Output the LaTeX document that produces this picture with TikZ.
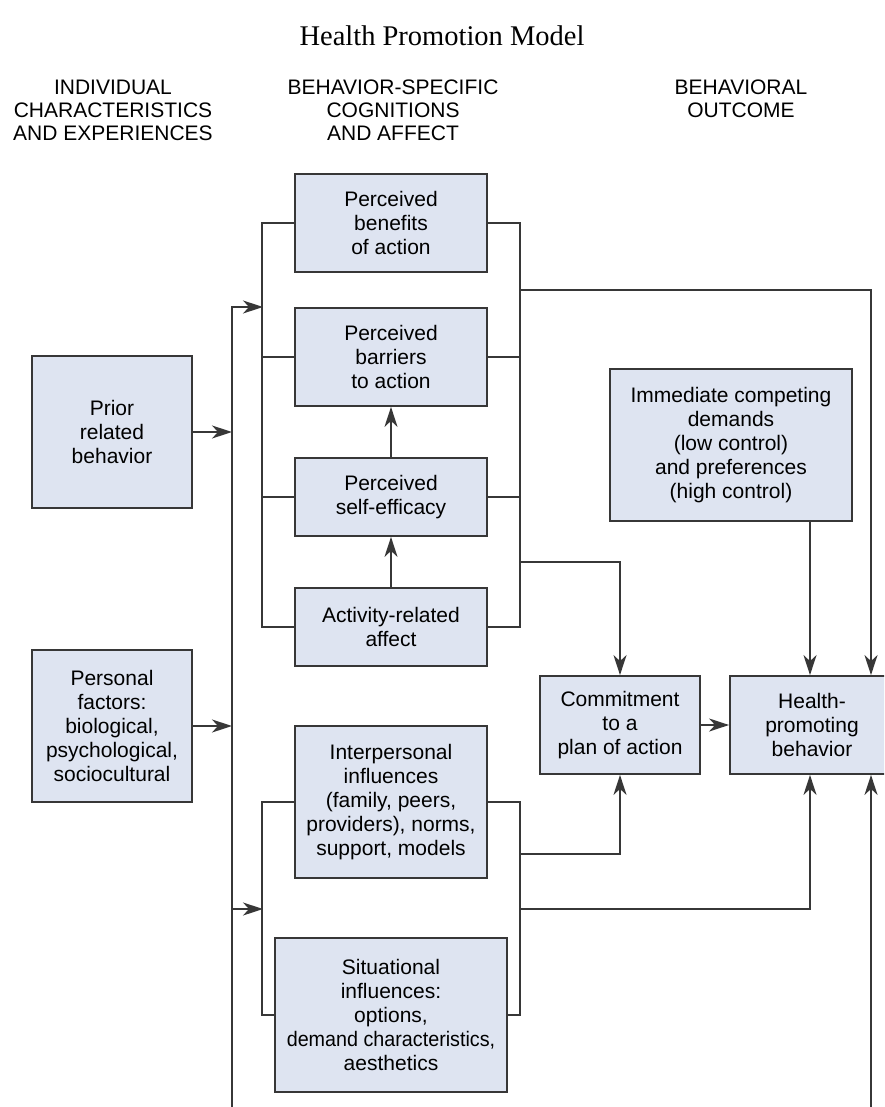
\documentclass[tikz,border=0pt]{standalone}
\usepackage{fontspec}
\usepackage{graphicx}
\setmainfont{Liberation Sans}
\newfontfamily\titlefont{Liberation Serif}
\usetikzlibrary{arrows.meta}
\definecolor{boxfill}{RGB}{222,228,241}
\definecolor{linecol}{RGB}{55,55,55}
\tikzset{>={Stealth[length=20pt,width=13pt,inset=6pt]}}
\begin{document}
\begin{tikzpicture}[x=1pt,y=-1pt,
  box/.style={draw=linecol, fill=boxfill, line width=1.8pt, inner sep=0pt, align=center,
              font=\fontsize{21}{24}\selectfont},
  conn/.style={draw=linecol, line width=1.8pt},
  arr/.style={conn, ->},
  hdr/.style={align=center, font=\fontsize{21}{23.3}\selectfont, inner sep=0pt, anchor=north}]
\useasboundingbox (0,0) rectangle (884,1107);
\clip (0,0) rectangle (884,1107);

% title and column headers
\node[font=\titlefont\fontsize{28.5}{30}\selectfont, inner sep=0pt] (title) at (442,36) {Health Promotion Model};
\node[hdr] (h1) at (113,79.5) {INDIVIDUAL\\CHARACTERISTICS\\AND EXPERIENCES};
\node[hdr] (h2) at (393,79.5) {BEHAVIOR-SPECIFIC\\COGNITIONS\\AND AFFECT};
\node[hdr] (h3) at (741,79.5) {BEHAVIORAL\\OUTCOME};

% boxes
\node[box, minimum width=192pt, minimum height=98pt] (ben) at (391,223) {Perceived\\benefits\\of action};
\node[box, minimum width=192pt, minimum height=98pt] (bar) at (391,357) {Perceived\\barriers\\to action};
\node[box, minimum width=192pt, minimum height=78pt] (eff) at (391,497) {Perceived\\self-efficacy};
\node[box, minimum width=192pt, minimum height=78pt] (aff) at (391,627) {Activity-related\\affect};
\node[box, minimum width=192pt, minimum height=152pt] (inter) at (391,802) {Interpersonal\\influences\\(family, peers,\\providers), norms,\\support, models};
\node[box, minimum width=232pt, minimum height=154pt] (sit) at (391,1015) {Situational\\influences:\\options,\\\scalebox{0.94}[1]{demand characteristics,}\\aesthetics};
\node[box, minimum width=160pt, minimum height=152pt] (prior) at (112,432) {Prior\\related\\behavior};
\node[box, minimum width=160pt, minimum height=152pt] (pers) at (112,726) {Personal\\factors:\\biological,\\psychological,\\sociocultural};
\node[box, minimum width=242pt, minimum height=152pt] (imm) at (731,445) {Immediate competing\\demands\\(low control)\\and preferences\\(high control)};
\node[box, minimum width=160pt, minimum height=98pt] (commit) at (620,725) {Commitment\\to a\\plan of action};
\node[box, minimum width=164pt, minimum height=98pt] (health) at (812,725) {Health-\\promoting\\behavior};

% bus coordinates
\coordinate (obot) at (232,1112);
\coordinate (otop) at (232,307);
\coordinate (itop) at (263,307);
\coordinate (olow) at (232,909);
\coordinate (ilow) at (263,909);
\coordinate (rbU) at (519,290);
\coordinate (rbC) at (519,562);
\coordinate (rbL1) at (519,854);
\coordinate (rbL2) at (519,909);
\coordinate (xr) at (871,0);
\coordinate (xh) at (810,0);
\coordinate (rbot) at (871,1112);

% outer left bus
\draw[arr] (obot) -- (otop) -- (itop);
\draw[arr] (olow) -- (ilow);
\draw[arr] (prior.east) -- (prior.east -| otop);
\draw[arr] (pers.east) -- (pers.east -| otop);

% upper group buses
\draw[conn] (ben.west) -- ++(-32,0) |- (aff.west);
\draw[conn] (bar.west) -- ++(-32,0);
\draw[conn] (eff.west) -- ++(-32,0);
\draw[conn] (ben.east) -- ++(32,0) |- (aff.east);
\draw[conn] (bar.east) -- ++(32,0);
\draw[conn] (eff.east) -- ++(32,0);

% lower group buses
\draw[conn] (inter.west) -- ++(-32,0) |- (sit.west);
\draw[conn] (inter.east) -- ++(32,0) |- (sit.east);

% internal arrows
\draw[arr] (aff.north) -- (eff.south);
\draw[arr] (eff.north) -- (bar.south);

% to outcome
\draw[arr] (rbU) -| (health.north -| xr);
\draw[arr] (rbC) -| (commit.north);
\draw[arr] (imm.south -| xh) -- (health.north -| xh);
\draw[arr] (commit.east) -- (health.west);
\draw[arr] (rbL1) -| (commit.south);
\draw[arr] (rbL2) -| (health.south -| xh);
\draw[arr] (rbot) -- (health.south -| xr);
\end{tikzpicture}
\end{document}
